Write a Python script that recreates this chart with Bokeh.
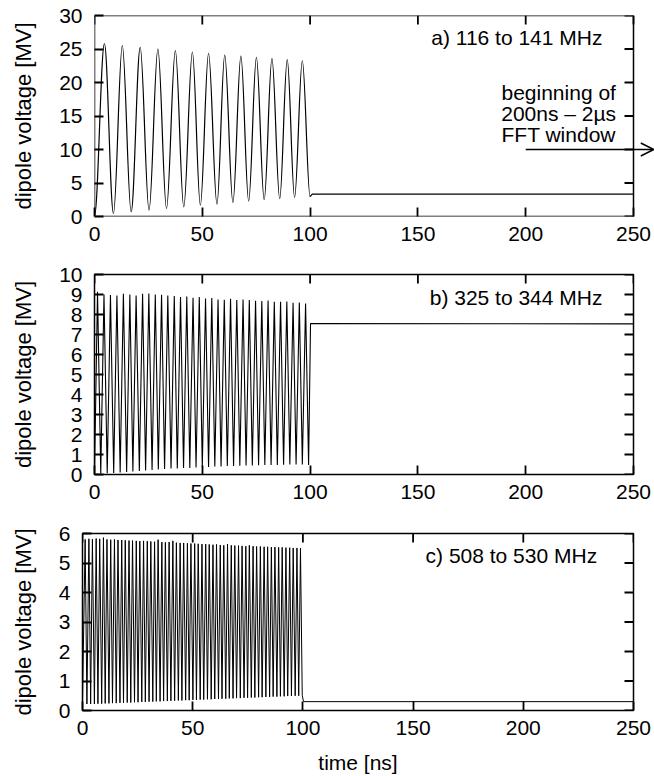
import numpy as np
from bokeh.plotting import figure
from bokeh.models import Range1d, Label, Arrow, OpenHead, FixedTicker
from bokeh.layouts import column, row
from bokeh.embed import file_html
from bokeh.resources import INLINE

# ---------------- data ----------------
x_ticks = [0, 50, 100, 150, 200, 250]
a_y_ticks = [0, 5, 10, 15, 20, 25, 30]
b_y_ticks = [0, 1, 2, 3, 4, 5, 6, 7, 8, 9, 10]
c_y_ticks = [0, 1, 2, 3, 4, 5, 6]

# panel a) 116 to 141 MHz : extrema of the smooth oscillation
a_start = (0.0, 0.1)
a_peak_t = [4.6, 12.9, 21.2, 29.4, 37.5, 45.4, 52.9, 60.4, 67.9, 75.1, 82.3, 89.4, 96.4]
a_peak_v = [25.8, 25.5, 25.25, 25.0, 24.75, 24.55, 24.35, 24.1, 23.95, 23.75, 23.55, 23.4, 23.25]
a_trough_t = [8.8, 17.0, 25.3, 33.4, 41.4, 49.1, 56.8, 64.2, 71.5, 78.7, 85.9, 92.8]
a_trough_v = [0.45, 0.7, 0.95, 1.2, 1.45, 1.7, 1.85, 2.1, 2.3, 2.5, 2.65, 2.85]
a_tail_t = [100.0, 101.0, 250.0]
a_tail_v = [2.95, 3.35, 3.33]

# panel b) 325 to 344 MHz
b_start = (0.0, 0.05)
b_peak_t = [1.4, 4.4, 7.4, 10.4, 13.4, 16.4, 19.3, 22.3, 25.2, 28.2, 31.1, 34.0, 37.0, 39.9,
            42.8, 45.7, 48.6, 51.5, 54.4, 57.3, 60.2, 63.1, 66.0, 68.9, 71.8, 74.7, 77.6,
            80.5, 83.4, 86.3, 89.2, 92.1, 95.0, 97.9]
b_peak_v = [9.14, 9.00, 8.97, 8.95, 9.04, 9.00, 8.95, 9.04, 9.05, 9.00, 8.99, 8.95, 8.92, 8.87,
            8.90, 8.84, 8.87, 8.80, 8.82, 8.75, 8.74, 8.79, 8.72, 8.75, 8.72, 8.69, 8.67,
            8.70, 8.64, 8.64, 8.65, 8.59, 8.60, 8.55]
b_trough_t = [2.9, 5.9, 8.9, 11.9, 14.9, 17.8, 20.8, 23.7, 26.7, 29.6, 32.5, 35.5, 38.4, 41.3,
              44.2, 47.1, 50.0, 52.9, 55.8, 58.7, 61.6, 64.5, 67.4, 70.3, 73.2, 76.1, 79.0,
              81.9, 84.8, 87.7, 90.6, 93.5, 96.4, 99.3]
b_trough_v = [0.05, 0.06, 0.08, 0.10, 0.12, 0.15, 0.17, 0.20, 0.22, 0.25, 0.27, 0.30, 0.30, 0.32,
              0.33, 0.35, 0.37, 0.38, 0.40, 0.40, 0.42, 0.42, 0.44, 0.45, 0.45, 0.46, 0.47,
              0.48, 0.48, 0.49, 0.50, 0.50, 0.50, 0.48]
b_tail_t = [100.2, 250.0]
b_tail_v = [7.55, 7.53]

# panel c) 508 to 530 MHz
c_start = (0.0, 0.3)
c_peak_t = [1.2, 2.9, 4.5, 6.2, 7.8, 9.5, 11.1, 12.8, 14.5, 16.1, 17.8, 19.4, 21.1, 22.7, 24.4,
            26.0, 27.7, 29.4, 31.0, 32.7, 34.3, 36.0, 37.6, 39.3, 41.0, 42.6, 44.3, 45.9, 47.6,
            49.2, 50.9, 52.5, 54.2, 55.9, 57.5, 59.2, 60.8, 62.5, 64.1, 65.8, 67.5, 69.1, 70.8,
            72.4, 74.1, 75.7, 77.4, 79.0, 80.7, 82.4, 84.0, 85.7, 87.3, 89.0, 90.6, 92.3, 94.0,
            95.6, 97.3, 98.9]
c_peak_v = [5.80, 5.82, 5.81, 5.83, 5.82, 5.86, 5.80, 5.79, 5.80, 5.78,
            5.78, 5.77, 5.76, 5.76, 5.75, 5.74, 5.75, 5.74, 5.73, 5.72,
            5.79, 5.71, 5.70, 5.71, 5.75, 5.69, 5.68, 5.68, 5.67, 5.66,
            5.66, 5.65, 5.64, 5.64, 5.63, 5.62, 5.63, 5.61, 5.60, 5.64,
            5.60, 5.59, 5.59, 5.58, 5.57, 5.60, 5.57, 5.56, 5.56, 5.55,
            5.55, 5.54, 5.54, 5.53, 5.53, 5.52, 5.52, 5.51, 5.51, 5.50]
c_trough_t = [2.0, 3.7, 5.4, 7.0, 8.7, 10.3, 12.0, 13.6, 15.3, 17.0, 18.6, 20.3, 21.9, 23.6, 25.2,
              26.9, 28.5, 30.2, 31.9, 33.5, 35.2, 36.8, 38.5, 40.1, 41.8, 43.5, 45.1, 46.8, 48.4,
              50.1, 51.7, 53.4, 55.0, 56.7, 58.4, 60.0, 61.7, 63.3, 65.0, 66.6, 68.3, 69.9, 71.6,
              73.3, 74.9, 76.6, 78.2, 79.9, 81.5, 83.2, 84.9, 86.5, 88.2, 89.8, 91.5, 93.1, 94.8,
              96.5, 98.1, 99.7]
c_trough_v = [0.22, 0.22, 0.22, 0.23, 0.23, 0.24, 0.24, 0.25, 0.25, 0.26,
              0.26, 0.27, 0.27, 0.28, 0.28, 0.29, 0.29, 0.30, 0.30, 0.31,
              0.31, 0.32, 0.32, 0.33, 0.33, 0.34, 0.34, 0.35, 0.35, 0.36,
              0.36, 0.37, 0.37, 0.38, 0.38, 0.39, 0.39, 0.40, 0.40, 0.41,
              0.41, 0.42, 0.42, 0.43, 0.43, 0.44, 0.44, 0.45, 0.45, 0.46,
              0.46, 0.47, 0.47, 0.48, 0.48, 0.49, 0.49, 0.50, 0.50, 0.51]
c_tail_t = [100.3, 250.0]
c_tail_v = [0.30, 0.30]

FONT = "Liberation Sans"
FS = "21px"
X_MAX = 250
PAGE_W = 654
RIGHT_GAP = 21      # px between the box's right edge and the page edge
TICK_PX = 9         # inside tick length
TICK_W = 1.8


def interleave(start, pt, pv, tt, tv):
    xs, ys = [start[0]], [start[1]]
    for i in range(len(pt)):
        xs.append(pt[i]); ys.append(pv[i])
        if i < len(tt):
            xs.append(tt[i]); ys.append(tv[i])
    return np.array(xs), np.array(ys)


def style_axis(ax, ticks):
    ax.ticker = FixedTicker(ticks=ticks)
    ax.major_tick_in = TICK_PX
    ax.major_tick_out = 0
    ax.major_tick_line_color = "black"
    ax.major_tick_line_width = TICK_W
    ax.minor_tick_line_color = None
    ax.axis_line_color = None
    ax.major_label_text_font = FONT
    ax.major_label_text_font_size = FS
    ax.major_label_text_color = "black"


def tick_path(pos, edge, inner, along_x):
    # one polyline with NaN breaks: one short stroke per tick, from the edge inwards
    a, b = [], []
    for v in pos:
        if along_x:
            a += [v, v, np.nan]; b += [edge, inner, np.nan]
        else:
            a += [edge, inner, np.nan]; b += [v, v, np.nan]
    return a, b


def make_fig(height, left, top, bottom, ymax, yticks, open_right=False):
    frame_w = PAGE_W - left - RIGHT_GAP          # width of the box 0..250
    frame_h = height - top - bottom
    if open_right:
        # the plotting area runs to the page edge (for the arrow); the box is drawn as a quad
        x_end = X_MAX * (PAGE_W - left) / frame_w
        border_r = 0
    else:
        x_end = X_MAX
        border_r = RIGHT_GAP
    p = figure(width=PAGE_W, height=height, min_border_left=left, min_border_right=border_r,
               min_border_top=top, min_border_bottom=bottom,
               x_range=Range1d(0, x_end), y_range=Range1d(0, ymax),
               output_backend="svg", toolbar_location=None)
    p.grid.visible = False
    if open_right:
        p.outline_line_color = None
        p.quad(left=0, right=X_MAX, bottom=0, top=ymax, fill_color=None,
               line_color="black", line_width=1.5)
    else:
        p.outline_line_color = "black"
        p.outline_line_width = 1.5
        p.outline_line_alpha = 1.0
    xb = p.below[0]
    yl = p.left[0]
    style_axis(xb, x_ticks)
    xb.major_label_standoff = 10
    style_axis(yl, yticks)
    yl.major_label_standoff = 12
    yl.axis_label = "dipole voltage [MV]"
    yl.axis_label_text_font = FONT
    yl.axis_label_text_font_size = "22px"
    yl.axis_label_text_font_style = "normal"
    yl.axis_label_text_color = "black"
    yl.axis_label_standoff = 20
    # mirrored inside ticks on the top edge ...
    dy = TICK_PX * ymax / frame_h
    tx, ty = tick_path(x_ticks, ymax, ymax - dy, True)
    p.line(tx, ty, line_color="black", line_width=TICK_W)
    # ... and on the right edge
    dx = TICK_PX * X_MAX / frame_w
    rx, ry = tick_path(yticks, X_MAX, X_MAX - dx, False)
    p.line(rx, ry, line_color="black", line_width=TICK_W)
    return p


def add_text(p, text, x, y, align="right"):
    p.add_layout(Label(x=x, y=y, text=text, text_align=align, text_baseline="alphabetic",
                       text_font=FONT, text_font_size=FS, text_color="black"))


# ---------------- panel a ----------------
pa = make_fig(258, 94, 15, 42, 30, a_y_ticks, open_right=True)
ax_, ay_ = interleave(a_start, a_peak_t, a_peak_v, a_trough_t, a_trough_v)
ax_ = np.append(ax_, a_tail_t[0]); ay_ = np.append(ay_, a_tail_v[0])
x0, x1 = ax_[:-1], ax_[1:]
y0, y1 = ay_[:-1], ay_[1:]
k = 0.3642
pa.bezier(x0=x0, y0=y0, x1=x1, y1=y1, cx0=x0 + k * (x1 - x0), cy0=y0,
          cx1=x1 - k * (x1 - x0), cy1=y1, line_color="black", line_width=1.2)
pa.line(a_tail_t, a_tail_v, line_color="black", line_width=1.2)
add_text(pa, "a) 116 to 141 MHz", 235.6, 26.7)
for txt, yy in [("beginning of", 18.5), ("200ns \u2013 2\u00b5s", 15.4), ("FFT window", 12.3)]:
    add_text(pa, txt, 215.3, yy, align="center")
# arrow marking the start of the FFT window, running past the box to the page edge
pa.add_layout(Arrow(end=OpenHead(size=13, line_width=1.5, line_color="black"),
                    x_start=200, y_start=10, x_end=259.4, y_end=10,
                    line_width=1.5, line_color="black"))

# ---------------- panel b ----------------
pb = make_fig(258, 94, 16, 42, 10, b_y_ticks)
bx, by = interleave(b_start, b_peak_t, b_peak_v, b_trough_t, b_trough_v)
bx = np.concatenate([bx, b_tail_t]); by = np.concatenate([by, b_tail_v])
pb.line(bx, by, line_color="black", line_width=1.1)
add_text(pb, "b) 325 to 344 MHz", 235.6, 8.85)

# ---------------- panel c ----------------
pc = make_fig(260, 82, 17, 65, 6, c_y_ticks)
cx, cy = interleave(c_start, c_peak_t, c_peak_v, c_trough_t, c_trough_v)
cx = np.concatenate([cx, c_tail_t]); cy = np.concatenate([cy, c_tail_v])
pc.line(cx, cy, line_color="black", line_width=1.0)
add_text(pc, "c) 508 to 530 MHz", 233.5, 5.26)
xb = pc.below[0]
xb.axis_label = "time [ns]"
xb.axis_label_text_font = FONT
xb.axis_label_text_font_size = FS
xb.axis_label_text_font_style = "normal"
xb.axis_label_text_color = "black"
xb.axis_label_standoff = 13

layout = column(row(pa), row(pb), row(pc), spacing=0)
open("out.html", "w").write(file_html(layout, INLINE))
